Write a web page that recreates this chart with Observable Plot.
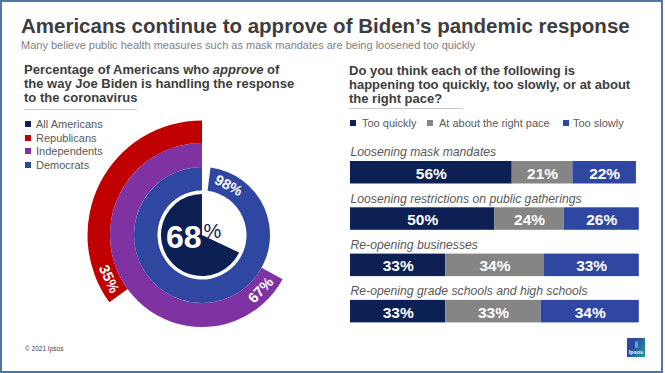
<!DOCTYPE html>
<html>
<head>
<meta charset="utf-8">
<script src="https://cdn.jsdelivr.net/npm/d3@7"></script>
<script src="https://cdn.jsdelivr.net/npm/@observablehq/plot@0.6"></script>
<style>
  body { margin: 0; background: #fff; font-family: 'Liberation Sans', Arial, sans-serif; }
  #page { position: relative; width: 665px; height: 373px; overflow: hidden; background: #fff; }
  #frame { position: absolute; left: 0; top: 0; width: 663px; height: 373px; box-sizing: border-box; border: 2px solid #5474a8; pointer-events: none; }
  .abs { position: absolute; white-space: nowrap; }
  .title { left: 21px; top: 16px; font-size: 20.5px; line-height: 1; font-weight: bold; color: #3d3d3d; }
  .subtitle { left: 21px; top: 40px; font-size: 11px; line-height: 1; color: #808080; }
  .heading { font-size: 13px; line-height: 13.8px; font-weight: bold; color: #3d3d3d; }
  .rule { height: 1px; background: #c9c9c9; }
  .sw { width: 6px; height: 6px; }
  .lt { font-size: 11px; line-height: 12px; color: #595959; }
  .chart { position: absolute; }
</style>
</head>
<body>
<div id="page"></div>
<script>
// ---------------- data ----------------
const groups = ["All Americans", "Republicans", "Independents", "Democrats"];
const approval = [68, 35, 67, 98];

const items = [
  "Loosening mask mandates",
  "Loosening restrictions on public gatherings",
  "Re-opening businesses",
  "Re-opening grade schools and high schools"
];
const responses = ["Too quickly", "At about the right pace", "Too slowly"];
const tooQuickly = [56, 50, 33, 33];
const rightPace = [21, 24, 34, 33];
const tooSlowly = [22, 26, 33, 34];

// ---------------- styles ----------------
const groupColors = ["#0c2054", "#c00000", "#7f33a3", "#2f47a1"];
const respColors = ["#0c2054", "#858585", "#2f47a1"];
// ring radii (px) by group, from center outwards
const ringRadii = {
  "All Americans": [0, 41],
  "Democrats": [44.5, 68],
  "Independents": [68, 92],
  "Republicans": [92, 114.5]
};
const FONT = "'Liberation Sans', Arial, sans-serif";

const page = document.getElementById("page");
function el(cls, css, html) {
  const d = document.createElement("div");
  d.className = cls;
  Object.assign(d.style, css);
  if (html != null) d.innerHTML = html;
  page.appendChild(d);
  return d;
}

// ---------------- left: donut ----------------
const angle = d3.scaleLinear().domain([0, 100]).range([0, -2 * Math.PI]); // counter-clockwise from 12 o'clock
const ringData = groups.map((g, i) => ({
  group: g, value: approval[i], color: groupColors[i],
  inner: ringRadii[g][0], outer: ringRadii[g][1]
}));

function ringsMark(index, scales) {
  const {x, y} = scales;
  const cx = x(0), cy = y(0), k = x(1) - x(0);
  const g = d3.create("svg:g").attr("transform", `translate(${cx},${cy})`);
  for (const r of ringData) {
    const arc = d3.arc()
      .innerRadius(r.inner * k).outerRadius(r.outer * k)
      .startAngle(0).endAngle(angle(r.value));
    g.append("path").attr("d", arc()).attr("fill", r.color);
  }
  return g.node();
}

const ringLabels = ringData.filter(r => r.inner > 0).map(r => {
  const rMid = (r.inner + r.outer) / 2;
  const endRad = 2 * Math.PI + angle(r.value);      // clockwise from top
  const labRad = endRad + 20 / rMid;                 // 20px inside the arc end
  let deg = labRad * 180 / Math.PI;
  deg = ((deg % 360) + 360) % 360;
  const rot = deg > 90 && deg < 270 ? deg - 180 : (deg >= 270 ? deg - 360 : deg);
  return {x: rMid * Math.sin(labRad), y: rMid * Math.cos(labRad), rotate: rot, label: r.value + "%"};
});

const left = Plot.plot({
  width: 244, height: 236,
  margin: 0,
  x: {domain: [-122, 122], axis: null},
  y: {domain: [-118, 118], axis: null},
  style: {fontFamily: FONT, background: "transparent", overflow: "visible"},
  marks: [
    ringsMark,
    Plot.text(ringLabels, {x: "x", y: "y", text: "label", rotate: "rotate", fill: "white", fontWeight: "bold", fontSize: 14.5}),
    Plot.text([approval[0]], {x: 0, y: 0, text: d => `${d}`, textAnchor: "end", lineAnchor: "bottom", dx: -1, dy: 12, fontSize: 32, fontWeight: "bold", fill: "white"}),
    Plot.text(["%"], {x: 0, y: 0, text: d => d, textAnchor: "start", lineAnchor: "bottom", dx: 1, dy: 2, fontSize: 20, fill: groupColors[0]})
  ]
});
left.classList.add("chart");
Object.assign(left.style, {left: "80px", top: "117px"});
page.appendChild(left);

// ---------------- right: stacked bars ----------------
const rows = items.flatMap((item, i) => [
  {item, response: responses[0], value: tooQuickly[i]},
  {item, response: responses[1], value: rightPace[i]},
  {item, response: responses[2], value: tooSlowly[i]}
]);

const right = Plot.plot({
  width: 320, height: 190,
  marginLeft: 15, marginRight: 16.2, marginTop: 21, marginBottom: 7.6,
  x: {domain: [0, 100], axis: null},
  y: {domain: items, axis: null, paddingInner: 0.514, paddingOuter: 0, align: 0, round: false},
  color: {domain: responses, range: respColors},
  style: {fontFamily: FONT, background: "transparent", overflow: "visible"},
  marks: [
    Plot.barX(rows, {x: "value", y: "item", fill: "response", z: "response"}),
    Plot.text(rows, Plot.stackX({x: "value", y: "item", z: "response", text: d => d.value + "%", fill: "white", fontWeight: "bold", fontSize: 15.5, dy: 1})),
    Plot.text(items, {x: 0, y: d => d, text: d => d, textAnchor: "start", lineAnchor: "bottom", dy: -16.5, fontStyle: "italic", fontSize: 12.2, fill: "#595959"})
  ]
});
right.classList.add("chart");
Object.assign(right.style, {left: "335px", top: "140px"});
page.appendChild(right);

// ---------------- texts ----------------
el("abs title", {}, "Americans continue to approve of Biden’s pandemic response");
el("abs subtitle", {}, "Many believe public health measures such as mask mandates are being loosened too quickly");

el("abs heading", {left: "24px", top: "63px"},
  "Percentage of Americans who <i>approve</i> of<br>the way Joe Biden is handling the response<br>to the coronavirus");
el("abs rule", {left: "24px", top: "109px", width: "113px"});

el("abs heading", {left: "349px", top: "64px"},
  "Do you think each of the following is<br>happening too quickly, too slowly, or at about<br>the right pace?");
el("abs rule", {left: "349px", top: "108px", width: "114px"});

// left legend
const legendY = [124, 137.5, 151, 164.5];
groups.forEach((g, i) => {
  el("abs sw", {left: "25px", top: (legendY[i] - 3) + "px", background: groupColors[i]});
  el("abs lt", {left: "36px", top: (legendY[i] - 6) + "px"}, g);
});

// right legend
const swX = [350, 427, 563], txX = [362, 439, 573];
responses.forEach((r, i) => {
  el("abs sw", {left: swX[i] + "px", top: (122.5 - 3) + "px", background: respColors[i]});
  el("abs lt", {left: txX[i] + "px", top: (122.5 - 6) + "px"}, r);
});

// footer
el("abs", {left: "25px", top: "344.5px", fontSize: "6.5px", lineHeight: "7px", color: "#404040"}, "© 2021 Ipsos");
const logo = el("abs", {left: "627px", top: "338px", width: "18px", height: "19px",
  background: "linear-gradient(120deg, #2c4a9d 35%, #1b9f98 100%)"});
const fig = document.createElement("div");
Object.assign(fig.style, {position: "absolute", left: "7.5px", top: "3px", width: "3px", height: "7px", borderRadius: "2px", background: "#5fa3dc"});
logo.appendChild(fig);
const lt = document.createElement("div");
Object.assign(lt.style, {position: "absolute", left: "0", width: "18px", top: "11px", textAlign: "center", fontSize: "5.5px", fontWeight: "bold", color: "#fff", lineHeight: "6px"});
lt.textContent = "Ipsos";
logo.appendChild(lt);

el("", {position: "absolute"}).id = "frame";
</script>
</body>
</html>
